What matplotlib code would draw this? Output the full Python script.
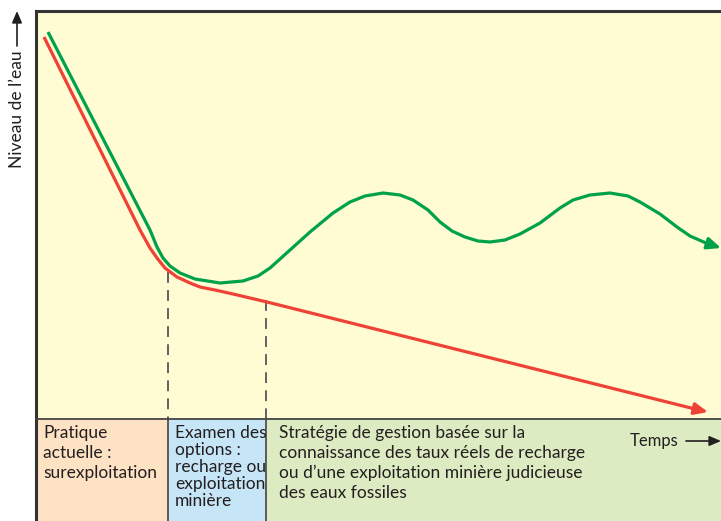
import matplotlib.pyplot as plt

plt.rcParams['font.family'] = ['Lato', 'DejaVu Sans']

# courbes (x = temps, y = niveau, en pixels de l'image)
vert_x = [48, 150, 157, 163, 170, 180, 195, 220, 243, 258, 270, 290, 310, 333, 350, 365,
          383, 400, 413, 428, 440, 452, 465, 478, 490, 505, 520, 540, 560, 573, 590, 610,
          628, 640, 660, 677, 690, 706]
vert_y = [32, 230, 247, 258, 266, 273, 279, 283, 281, 276, 268, 250, 232, 213, 202, 196,
          193, 195, 200, 210, 222, 231, 237, 241, 242, 240, 234, 223, 208, 200, 195, 193,
          196, 202, 214, 227, 236, 243]
rouge_x = [44, 140, 150, 157, 165, 177, 190, 200, 215, 233, 267, 695]
rouge_y = [37, 230, 248, 258, 268, 277, 283, 287, 290, 294, 302, 409]

# bandes du bas
bandes_x = [36, 168, 266, 725]
bandes_couleurs = ['#fde2c4', '#c6e6f8', '#dcebc1']
bandes_textes = ['Pratique\nactuelle :\nsurexploitation',
                 'Examen des\noptions :\nrecharge ou\nexploitation\nminière',
                 'Stratégie de gestion basée sur la\nconnaissance des taux réels de recharge\n'
                 'ou d\u2019une exploitation minière judicieuse\ndes eaux fossiles']

W, H = 721, 521
haut, bas_graph = 11, 419

fig = plt.figure(figsize=(7.21, 5.21), dpi=100)
ax = fig.add_axes([0, 0, 1, 1])
ax.set_xlim(0, W)
ax.set_ylim(H, 0)
ax.axis('off')

# fond jaune
ax.fill_between([36, W + 5], haut, bas_graph, color='#fffbd3', lw=0)

for i in range(3):
    ax.fill_between([bandes_x[i], bandes_x[i + 1]], bas_graph, H + 5,
                    color=bandes_couleurs[i], lw=0)
for xd in bandes_x[1:3]:
    ax.plot([xd, xd], [bas_graph, H + 5], color='#444444', lw=1.2)

# pointillés
ax.plot([168, 168], [272, bas_graph], color='#555555', lw=1.3, dashes=(6, 4))
ax.plot([266, 266], [300, bas_graph], color='#555555', lw=1.3, dashes=(6, 4))

# cadre
ax.plot([36, 36], [H + 5, haut], color='#333333', lw=2.2, solid_capstyle='projecting')
ax.plot([36, W + 5], [haut, haut], color='#333333', lw=2.2, solid_capstyle='projecting')
ax.plot([36, W + 5], [bas_graph, bas_graph], color='#444444', lw=1.3)

# courbes
vert = '#00a14b'
rouge = '#ef4136'
ax.plot(vert_x, vert_y, color=vert, lw=2.3, solid_capstyle='butt', solid_joinstyle='round')
ax.annotate('', xy=(721, 248), xytext=(vert_x[-1], vert_y[-1]),
            arrowprops=dict(arrowstyle='-|>,head_length=0.8,head_width=0.35',
                            color=vert, lw=2.3, shrinkA=0, shrinkB=0))
ax.plot(rouge_x, rouge_y, color=rouge, lw=2.3, solid_capstyle='butt', solid_joinstyle='round')
ax.annotate('', xy=(708, 412), xytext=(rouge_x[-1], rouge_y[-1]),
            arrowprops=dict(arrowstyle='-|>,head_length=0.8,head_width=0.35',
                            color=rouge, lw=2.3, shrinkA=0, shrinkB=0))

# textes des bandes
ax.text(43, 425, bandes_textes[0], fontsize=12.5, va='top', ha='left',
        color='#231f20', linespacing=1.3)
ax.text(175, 425, bandes_textes[1], fontsize=12.5, va='top', ha='left',
        color='#231f20', linespacing=1.07)
ax.text(279, 425, bandes_textes[2], fontsize=12.5, va='top', ha='left',
        color='#231f20', linespacing=1.3)

# axes
ax.text(630, 441, 'Temps', fontsize=12, va='center', ha='left', color='#231f20')
ax.annotate('', xy=(721, 441), xytext=(686, 441),
            arrowprops=dict(arrowstyle='-|>,head_length=0.7,head_width=0.3',
                            color='#231f20', lw=1.2, shrinkA=0, shrinkB=0))
ax.text(17, 109, 'Niveau de l\u2019eau', fontsize=12.5, rotation=90,
        va='center', ha='center', color='#231f20')
ax.annotate('', xy=(17, 11), xytext=(17, 46),
            arrowprops=dict(arrowstyle='-|>,head_length=0.7,head_width=0.3',
                            color='#231f20', lw=1.2, shrinkA=0, shrinkB=0))

fig.savefig('out.png', dpi=100)
